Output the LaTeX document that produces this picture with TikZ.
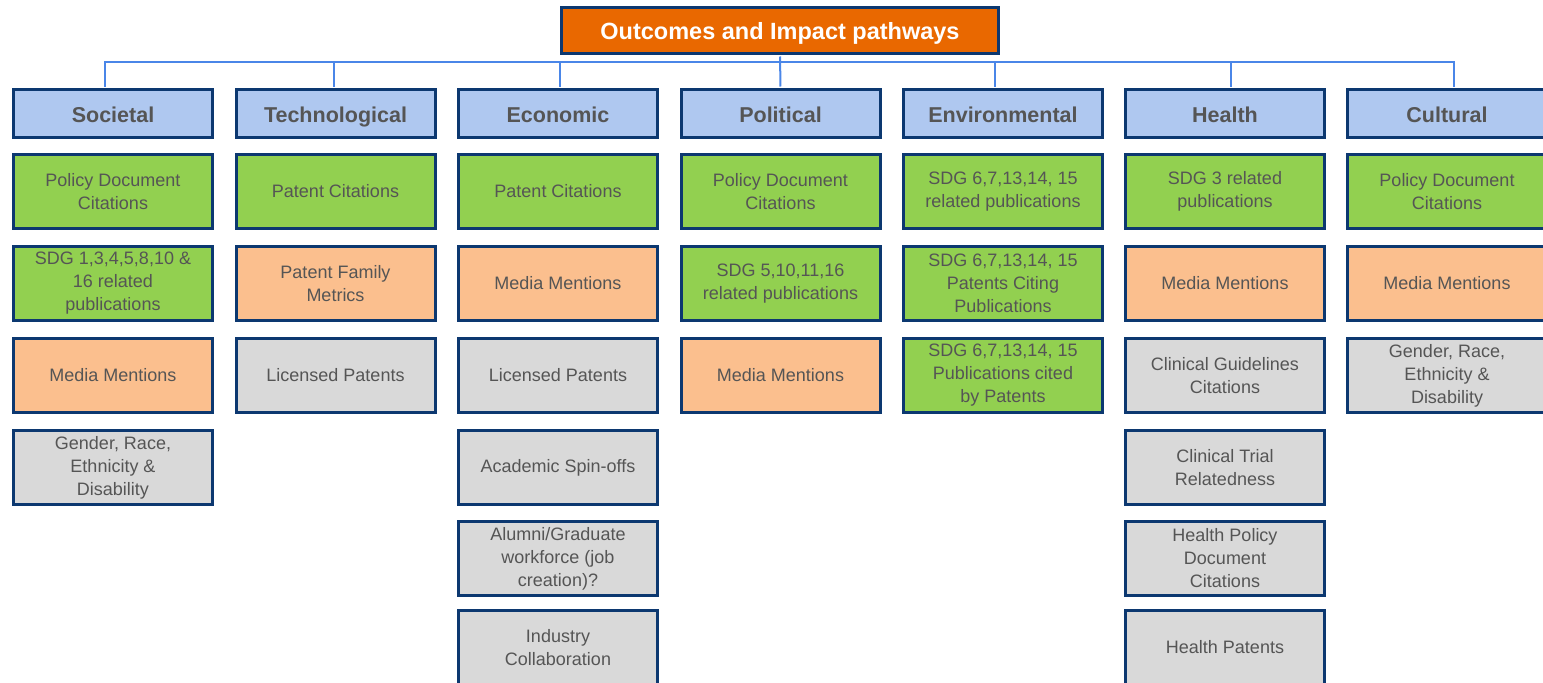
\documentclass[tikz,border=0pt]{standalone}
\usepackage{fontspec}
\setmainfont{Liberation Sans}
\usepackage{tikz}
\definecolor{navy}{HTML}{0C3870}
\definecolor{headblue}{HTML}{AFC8F0}
\definecolor{boxgreen}{HTML}{92D050}
\definecolor{boxpeach}{HTML}{FBBF8E}
\definecolor{boxgrey}{HTML}{D9D9D9}
\definecolor{titleorange}{HTML}{E96800}
\definecolor{linkblue}{HTML}{4A86E8}
\definecolor{txtgrey}{HTML}{555555}
\newcommand{\hdrY}{113.5}

\begin{document}
\begin{tikzpicture}[x=1pt,y=-1pt,
    box/.style={draw=navy, line width=3pt, minimum width=199pt, minimum height=74pt,
        inner sep=2pt, align=center, text=txtgrey, font=\fontsize{18}{23}\selectfont},
    greenbox/.style={box, fill=boxgreen},
    peachbox/.style={box, fill=boxpeach},
    greybox/.style={box, fill=boxgrey},
    headbox/.style={box, fill=headblue, minimum height=48pt, text height=20pt, text depth=3pt,
        font=\fontsize{21.5}{24}\selectfont\bfseries},
    link/.style={draw=linkblue, line width=2pt, shorten <=1.5pt, shorten >=1.5pt}]

        % Fix the page and cut what runs over the edge
        \useasboundingbox (0,0) rectangle (1543,683);
        \clip (0,0) rectangle (1543,683);

        % Title
        \node[box, fill=titleorange, minimum width=437pt, minimum height=46pt, text=white,
            text height=21.5pt, text depth=3pt,
            font=\fontsize{23.5}{26}\selectfont\bfseries] (title) at (780,30.5) {Outcomes and Impact pathways};

        % Headers
        \node[headbox] (soc) at (113,\hdrY) {Societal};
        \node[headbox] (tec) at (335.5,\hdrY) {Technological};
        \node[headbox] (eco) at (558,\hdrY) {Economic};
        \node[headbox] (pol) at (780.5,\hdrY) {Political};
        \node[headbox] (env) at (1003,\hdrY) {Environmental};
        \node[headbox] (hea) at (1225,\hdrY) {Health};
        \node[headbox] (cul) at (1447,\hdrY) {Cultural};

        % Lines from title to headers
        \coordinate (bus) at (780,62);
        \draw[link] (title.south) -- (pol.north);
        \draw[link] ([xshift=-8pt]soc.north) |- (bus) -| ([xshift=7pt]cul.north);
        \foreach \n/\s in {tec/-2, eco/2, env/-8, hea/6}
            \draw[link, shorten >=0pt] ([xshift=\s pt]\n.north) |- (bus);

        % Societal
        \node[greenbox] (socA) at (113,191.5) {Policy Document\\Citations};
        \node[greenbox] (socB) at (113,283.5) {SDG 1,3,4,5,8,10 \&\\16 related\\publications};
        \node[peachbox] (socC) at (113,375.5) {Media Mentions};
        \node[greybox] (socD) at (113,467.5) {Gender, Race,\\Ethnicity \&\\Disability};

        % Technological
        \node[greenbox] (tecA) at (335.5,191.5) {Patent Citations};
        \node[peachbox] (tecB) at (335.5,283.5) {Patent Family\\Metrics};
        \node[greybox] (tecC) at (335.5,375.5) {Licensed Patents};

        % Economic
        \node[greenbox] (ecoA) at (558,191.5) {Patent Citations};
        \node[peachbox] (ecoB) at (558,283.5) {Media Mentions};
        \node[greybox] (ecoC) at (558,375.5) {Licensed Patents};
        \node[greybox] (ecoD) at (558,467.5) {Academic Spin-offs};
        \node[greybox] (ecoE) at (558,558.5) {Alumni/Graduate\\workforce (job\\creation)?};
        \node[greybox] (ecoF) at (558,647.5) {Industry\\Collaboration};

        % Political
        \node[greenbox] (polA) at (780.5,191.5) {Policy Document\\Citations};
        \node[greenbox] (polB) at (780.5,283.5) {SDG 5,10,11,16\\related publications};
        \node[peachbox] (polC) at (780.5,375.5) {Media Mentions};

        % Environmental
        \node[greenbox] (envA) at (1003,191.5) {SDG 6,7,13,14, 15\\related publications};
        \node[greenbox] (envB) at (1003,283.5) {SDG 6,7,13,14, 15\\Patents Citing\\Publications};
        \node[greenbox] (envC) at (1003,375.5) {SDG 6,7,13,14, 15\\Publications cited\\by Patents};

        % Health
        \node[greenbox] (heaA) at (1225,191.5) {SDG 3 related\\publications};
        \node[peachbox] (heaB) at (1225,283.5) {Media Mentions};
        \node[greybox] (heaC) at (1225,375.5) {Clinical Guidelines\\Citations};
        \node[greybox] (heaD) at (1225,467.5) {Clinical Trial\\Relatedness};
        \node[greybox] (heaE) at (1225,558.5) {Health Policy\\Document\\Citations};
        \node[greybox] (heaF) at (1225,647.5) {Health Patents};

        % Cultural
        \node[greenbox] (culA) at (1447,191.5) {Policy Document\\Citations};
        \node[peachbox] (culB) at (1447,283.5) {Media Mentions};
        \node[greybox] (culC) at (1447,375.5) {Gender, Race,\\Ethnicity \&\\Disability};
    \end{tikzpicture}
\end{document}
